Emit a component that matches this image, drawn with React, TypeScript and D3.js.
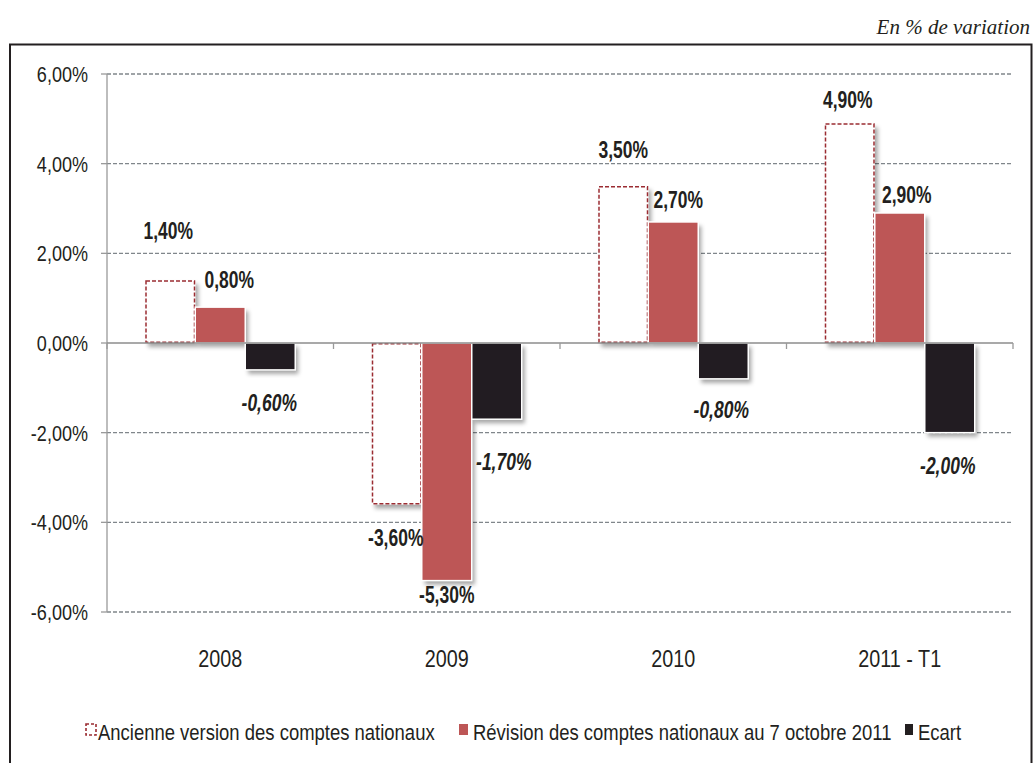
import React from "react";
import * as d3 from "d3";

const categories = ["2008", "2009", "2010", "2011 - T1"];
const seriesNames = [
  "Ancienne version des comptes nationaux",
  "Révision des comptes nationaux au 7 octobre 2011",
  "Ecart",
];
const ancienne = [1.4, -3.6, 3.5, 4.9];
const revision = [0.8, -5.3, 2.7, 2.9];
const ecart = [-0.6, -1.7, -0.8, -2.0];
const yTicks = [-6, -4, -2, 0, 2, 4, 6];

// label nudges (pixels) relative to bar end, per series / category
const labelDx = [
  [-2, -1, 0, -2],
  [9, 0, 5, 7],
  [-1, 7, -2, -2],
];
const labelDy = [
  [-50, 33, -36, -24],
  [-27, 14, -22, -18],
  [33, 42, 31, 33],
];

const W = 1034;
const H = 763;
const FONT = "'Liberation Sans', Arial, sans-serif";

const fmt = (v: number) => v.toFixed(2).replace(".", ",") + "%";

type NTProps = {
  x: number;
  y: number;
  s: number;
  size: number;
  anchor?: string;
  bold?: boolean;
  italic?: boolean;
  children: React.ReactNode;
};

function NText({ x, y, s, size, anchor = "start", bold, italic, children }: NTProps) {
  return (
    <text
      transform={`translate(${x},${y}) scale(${s},1)`}
      dy="0.36em"
      textAnchor={anchor}
      fontFamily={FONT}
      fontSize={size}
      fontWeight={bold ? "bold" : "normal"}
      fontStyle={italic ? "italic" : "normal"}
      fill="#231F20"
    >
      {children}
    </text>
  );
}

export default function App() {
  const y = d3.scaleLinear().domain([-6, 6]).range([612, 74]);
  const x0 = d3.scaleBand<string>().domain(categories).range([107, 1013]).padding(0);
  const x1 = d3
    .scaleBand<string>()
    .domain(seriesNames)
    .range([0, x0.bandwidth()])
    .paddingInner(0)
    .paddingOuter(0.765);
  const data = [ancienne, revision, ecart];
  const fills = ["#ffffff", "#BD5656", "#231F20"];

  return (
    <svg
      width={W}
      height={H}
      style={{ position: "absolute", left: 0, top: 0, display: "block", background: "#fff" }}
    >
      <defs>
        <filter id="sh" x="-20%" y="-20%" width="150%" height="150%">
          <feDropShadow dx="3" dy="4" stdDeviation="2" floodColor="#000" floodOpacity="0.35" />
        </filter>
      </defs>
      <text
        x={1030}
        y={34}
        textAnchor="end"
        fontFamily="'Liberation Serif', 'Times New Roman', serif"
        fontStyle="italic"
        fontSize={21}
        fill="#231F20"
      >
        En % de variation
      </text>
      {/* frame */}
      <rect x={10} y={44.5} width={1021.5} height={760} fill="none" stroke="#231F20" strokeWidth={2} />

      {/* gridlines */}
      {yTicks
        .filter((t) => t !== 0)
        .map((t) => (
          <line
            key={"g" + t}
            x1={107}
            x2={1013}
            y1={y(t)}
            y2={y(t)}
            stroke="#80868B"
            strokeWidth={1.3}
            strokeDasharray="4 2"
          />
        ))}
      {/* y axis */}
      <line x1={107} x2={107} y1={y(6)} y2={y(-6)} stroke="#9a9a9a" strokeWidth={1.3} />
      {yTicks.map((t) => (
        <g key={"t" + t}>
          <line x1={101} x2={107} y1={y(t)} y2={y(t)} stroke="#9a9a9a" strokeWidth={1.3} />
          <NText x={88} y={y(t)} s={0.82} size={22} anchor="end">
            {fmt(t)}
          </NText>
        </g>
      ))}

      {/* bars */}
      {data.map((vals, si) =>
        vals.map((v, ci) => {
          const xb = (x0(categories[ci]) as number) + (x1(seriesNames[si]) as number);
          const top = Math.min(y(v), y(0));
          const h = Math.abs(y(v) - y(0));
          return (
            <g key={"b" + si + ci}>
              <rect x={xb} y={top} width={x1.bandwidth()} height={h} fill={fills[si]} filter="url(#sh)" />
              {si === 0 ? (
                <rect
                  x={xb + 0.75}
                  y={top + 0.75}
                  width={x1.bandwidth() - 1.5}
                  height={h - 1.5}
                  fill="none"
                  stroke="#9B2C32"
                  strokeWidth={1.5}
                  strokeDasharray="4 2"
                />
              ) : (
                <rect
                  x={xb}
                  y={top}
                  width={x1.bandwidth()}
                  height={h}
                  fill="none"
                  stroke="#ffffff"
                  strokeWidth={1.5}
                />
              )}
            </g>
          );
        })
      )}

      {/* zero axis */}
      <line x1={107} x2={1013} y1={y(0)} y2={y(0)} stroke="#8c8c8c" strokeWidth={1.5} />
      {[0, 1, 2, 3, 4].map((i) => (
        <line
          key={"xt" + i}
          x1={107 + i * x0.step()}
          x2={107 + i * x0.step()}
          y1={y(0)}
          y2={y(0) + 6}
          stroke="#9a9a9a"
          strokeWidth={1.3}
        />
      ))}

      {/* labels */}
      {data.map((vals, si) =>
        vals.map((v, ci) => {
          const cx =
            (x0(categories[ci]) as number) + (x1(seriesNames[si]) as number) + x1.bandwidth() / 2;
          return (
            <NText
              key={"l" + si + ci}
              x={cx + labelDx[si][ci]}
              y={y(v) + labelDy[si][ci]}
              s={0.76}
              size={23}
              anchor="middle"
              bold
              italic={si === 2}
            >
              {fmt(v)}
            </NText>
          );
        })
      )}

      {/* category labels */}
      {categories.map((c) => (
        <NText key={"c" + c} x={(x0(c) as number) + x0.bandwidth() / 2} y={659} s={0.86} size={23} anchor="middle">
          {c}
        </NText>
      ))}

      {/* legend */}
      <rect x={86} y={724} width={10} height={11} fill="#fff" stroke="#9B2C32" strokeWidth={1.6} strokeDasharray="3 2" />
      <NText x={98} y={732} s={0.84} size={22}>
        {seriesNames[0]}
      </NText>
      <rect x={459} y={724} width={9} height={11} fill="#BD5656" />
      <NText x={473} y={732} s={0.84} size={22}>
        {seriesNames[1]}
      </NText>
      <rect x={905} y={724} width={8} height={11} fill="#231F20" />
      <NText x={918} y={732} s={0.84} size={22}>
        {seriesNames[2]}
      </NText>
    </svg>
  );
}
